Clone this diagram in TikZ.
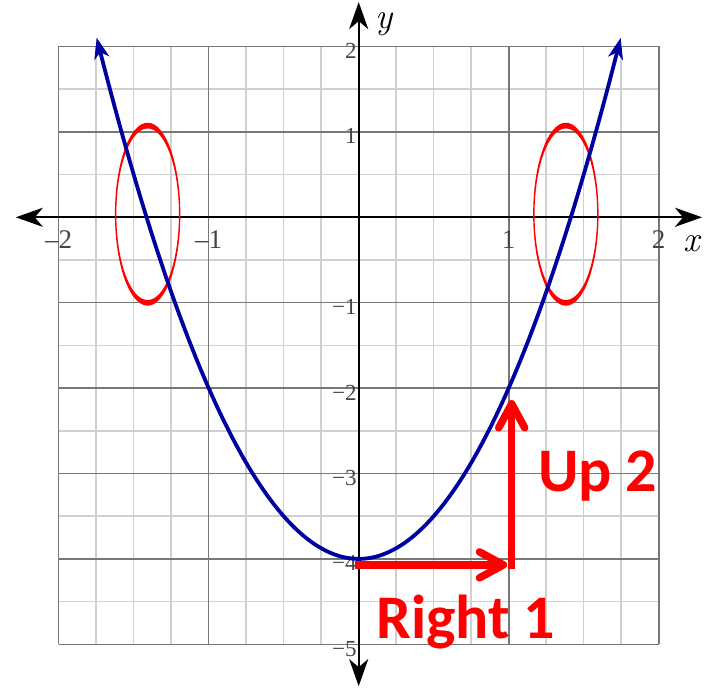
\documentclass[tikz,border=0pt]{standalone}
\usepackage{fontspec}
\setmainfont{Latin Modern Roman}
\newfontfamily\boldsans{Carlito}
\newfontfamily\tickfont{Liberation Serif}
\usetikzlibrary{arrows.meta}
\definecolor{gridminor}{HTML}{D0D0D0}
\definecolor{gridmajor}{HTML}{787878}
\definecolor{curveblue}{HTML}{0000A0}
\definecolor{ticklbl}{HTML}{444444}
\tikzset{
  minorline/.style={gridminor, line width=1.5pt},
  majorline/.style={gridmajor, line width=1.6pt},
  axisline/.style={black, line width=2.3pt, {Stealth[length=27pt,width=19pt,inset=8pt]}-{Stealth[length=27pt,width=19pt,inset=8pt]}},
  curveline/.style={curveblue, line width=3.8pt, {Stealth[length=21pt,width=15pt,inset=6pt]}-{Stealth[length=21pt,width=15pt,inset=6pt]}},
  yticklabel/.style={ticklbl, inner sep=0pt, font=\tickfont\fontsize{23}{27}\selectfont},
  xticklabel/.style={ticklbl, inner sep=0pt, font=\tickfont\fontsize{27}{31}\selectfont},
  axislabel/.style={black, inner sep=0pt, font=\fontsize{36}{40}\selectfont\itshape},
  redarrow/.style={red, line width=7.5pt, -{Straight Barb[length=24pt,width=26pt,round]}},
  redlabel/.style={red, inner sep=0pt, font=\boldsans\bfseries\fontsize{62}{70}\selectfont},
  ring/.style={red, even odd rule}
}
\begin{document}
\begin{tikzpicture}[x=150pt, y=85.4pt]
\useasboundingbox (-358.7pt,-469.7pt) rectangle (352.3pt,217.3pt);
% minor grid
\foreach \i in {-1.75,-1.5,-1.25,-0.75,-0.5,-0.25,0.25,0.5,0.75,1.25,1.5,1.75}
  \draw[minorline] (\i,-5) -- (\i,2);
\foreach \j in {-4.5,-3.5,-2.5,-1.5,-0.5,0.5,1.5}
  \draw[minorline] (-2,\j) -- (2,\j);
% major grid
\foreach \i in {-2,-1,0,1,2}
  \draw[majorline] (\i,-5) -- (\i,2);
\foreach \j in {-5,-4,-3,-2,-1,0,1,2}
  \draw[majorline] (-2,\j) -- (2,\j);
% axes
\coordinate (o) at (0,0);
\coordinate (xl) at (-2.286,0);
\coordinate (xr) at (2.289,0);
\coordinate (yb) at (0,-5.49);
\coordinate (yt) at (0,2.52);
\draw[axisline] (xl) -- (xr);
\draw[axisline] (yb) -- (yt);
\node[axislabel, anchor=base west] (ylab) at ([shift={(17pt,189pt)}]o) {y};
\node[axislabel, anchor=base west] (xlab) at ([shift={(325pt,-34.4pt)}]o) {x};
% tick labels
\foreach \i/\t in {-2/{–2},-1/{–1},1/{1},2/{2}}
  \node[xticklabel, anchor=base] (tx\i) at ([yshift=-31pt]\i,0) {\t};
\foreach \j/\t in {2/{2},1/{1},-1/{−1},-2/{−2},-3/{−3},-4/{−4},-5/{−5}}
  \node[yticklabel, anchor=base east] (ty\j) at ([shift={(-2pt,-12pt)}]0,\j) {\t};
% red rings
\fill[ring] (-1.407,0.036) ellipse [x radius=32.7pt, y radius=91.5pt]
            (-1.407,0.036) ellipse [x radius=31.3pt, y radius=85.8pt];
\fill[ring] (1.381,0.036) ellipse [x radius=32.7pt, y radius=91.5pt]
            (1.381,0.036) ellipse [x radius=31.3pt, y radius=85.8pt];
% curve
\draw[curveline] plot[domain=-1.747:1.747, samples=120, smooth] (\x,{2*\x*\x-4});
% red arrows
\coordinate (hs) at (-0.025,-4.07);
\coordinate (he) at (0.99,-4.07);
\coordinate (vs) at (1.02,-4.115);
\coordinate (ve) at (1.02,-2.14);
\draw[redarrow] (hs) -- (he);
\draw[redarrow] (vs) -- (ve);
\node[redlabel, anchor=base west] (up) at (1.195,-3.213) {Up 2};
\node[redlabel, anchor=base west] (right) at (0.115,-4.93) {Right 1};
\end{tikzpicture}
\end{document}
